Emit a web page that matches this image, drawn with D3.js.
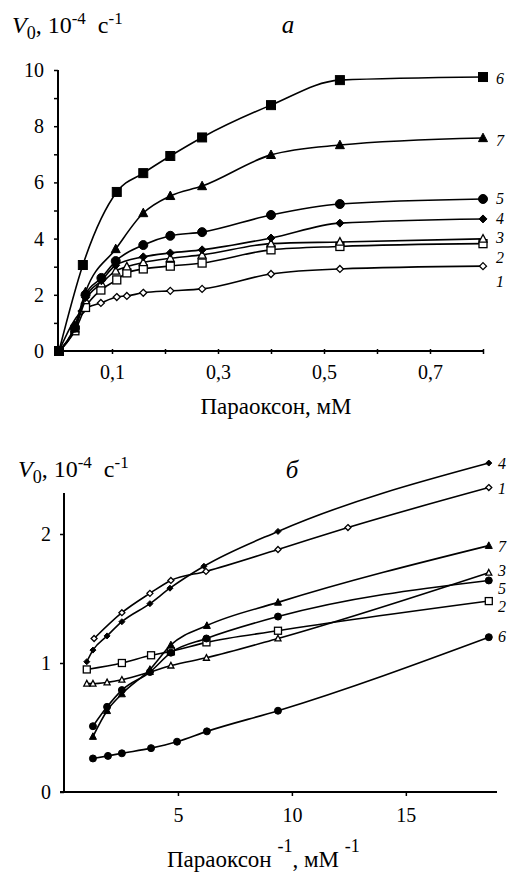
<!DOCTYPE html>
<html><head><meta charset="utf-8">
<script src="https://cdn.jsdelivr.net/npm/d3@7"></script>
<style>body{margin:0;background:#fff}svg{display:block}text{font-family:"Liberation Serif","Times New Roman",serif;fill:#000}</style>
</head><body><svg id="c" width="510" height="873"></svg>
<script>
// ---------- Panel a: V0 vs paraoxon, mM ----------
const aXTicks = [0.1,0.2,0.3,0.4,0.5,0.6,0.7,0.8];
const aXLabels = ["0,1","","0,3","","0,5","","0,7",""];
const aYTicks = [0,1,2,3,4,5,6,7,8,9,10];
const aYLabels = ["0","","2","","4","","6","","8","","10"];
const a1x = [0,0.043,0.079,0.109,0.128,0.159,0.21,0.27,0.40,0.53,0.80];
const a1y = [0,1.42,1.71,1.92,1.96,2.07,2.14,2.21,2.74,2.92,3.02];
const a2x = [0,0.03,0.05,0.079,0.109,0.128,0.159,0.21,0.27,0.40,0.53,0.80];
const a2y = [0,0.72,1.55,2.17,2.53,2.78,2.92,3.02,3.13,3.60,3.72,3.82];
const a3x = [0,0.03,0.05,0.08,0.107,0.128,0.159,0.21,0.27,0.40,0.53,0.80];
const a3y = [0,0.8,1.8,2.4,2.85,3.0,3.15,3.3,3.42,3.82,3.88,3.99];
const a4x = [0,0.03,0.05,0.08,0.107,0.159,0.21,0.27,0.40,0.53,0.80];
const a4y = [0,0.8,1.9,2.5,3.05,3.35,3.49,3.6,4.02,4.55,4.70];
const a5x = [0,0.03,0.05,0.08,0.107,0.159,0.21,0.27,0.40,0.53,0.80];
const a5y = [0,0.85,2.0,2.6,3.2,3.77,4.1,4.23,4.84,5.23,5.41];
const a6x = [0,0.045,0.109,0.159,0.21,0.27,0.40,0.53,0.80];
const a6y = [0,3.06,5.66,6.33,6.94,7.6,8.75,9.64,9.75];
const a7x = [0,0.03,0.05,0.107,0.159,0.21,0.27,0.40,0.53,0.80];
const a7y = [0,0.9,2.1,3.63,4.91,5.52,5.87,6.98,7.33,7.58];

// ---------- Panel б: V0 vs 1/paraoxon ----------
const bXTicks = [5,10,15];
const bYTicks = [0,1,2];
const b1x = [1.32,2.54,3.77,4.69,6.23,9.39,12.46,18.64];
const b1y = [1.19,1.39,1.54,1.64,1.71,1.88,2.05,2.36];
const b2x = [1.0,2.54,3.82,4.69,6.25,9.39,18.64];
const b2y = [0.95,1.0,1.06,1.09,1.16,1.25,1.48];
const b3x = [1.0,1.27,1.89,2.54,3.77,4.69,6.25,9.39,18.64];
const b3y = [0.84,0.84,0.85,0.87,0.93,0.98,1.04,1.19,1.70];
const b4x = [1.0,1.27,1.89,2.54,3.77,4.65,6.14,9.39,18.64];
const b4y = [1.01,1.10,1.21,1.32,1.46,1.58,1.75,2.02,2.55];
const b5x = [1.27,1.89,2.54,3.77,4.69,6.25,9.39,18.64];
const b5y = [0.51,0.66,0.79,0.93,1.08,1.19,1.36,1.64];
const b6x = [1.27,1.93,2.54,3.82,4.96,6.27,9.39,18.64];
const b6y = [0.26,0.28,0.30,0.34,0.39,0.47,0.63,1.20];
const b7x = [1.27,1.89,2.54,3.77,4.69,6.27,9.39,18.64];
const b7y = [0.43,0.63,0.76,0.95,1.14,1.29,1.47,1.91];

const svg = d3.select("#c");

function zip(xs, ys){ return xs.map((x,i)=>({x, y: ys[i]})); }

function marker(g, type, size){
  const s = size;
  if(type==="sq"||type==="osq"){
    return g.append("rect").attr("x",-s/2).attr("y",-s/2).attr("width",s).attr("height",s);
  }
  if(type==="tri"||type==="otri"){
    const h=s*0.9;
    return g.append("path").attr("d",`M0,${-h*0.6}L${s/2},${h*0.45}L${-s/2},${h*0.45}Z`);
  }
  if(type==="dia"||type==="odia"){
    return g.append("path").attr("d",`M0,${-s/2}L${s/2},0L0,${s/2}L${-s/2},0Z`);
  }
  return g.append("circle").attr("r",s/2);
}

function drawSeries(g, x, y, data, type, size, curve){
  const line = d3.line().x(d=>x(d.x)).y(d=>y(d.y)).curve(curve);
  g.append("path").attr("d", line(data)).attr("fill","none").attr("stroke","#000").attr("stroke-width",1.6);
  const open = type.startsWith("o");
  data.forEach(d=>{
    const mg = g.append("g").attr("transform",`translate(${x(d.x)},${y(d.y)})`);
    marker(mg, type, size).attr("fill", open?"#fff":"#000").attr("stroke","#000").attr("stroke-width",open?1.3:1);
  });
}

function yTitle(g, x0, y0){
  const t = g.append("text").attr("x",x0).attr("y",y0).attr("font-size",24).attr("xml:space","preserve");
  t.append("tspan").attr("font-style","italic").text("V");
  t.append("tspan").attr("font-size",18).attr("dy",6).text("0");
  t.append("tspan").attr("dy",-6).text(", 10");
  t.append("tspan").attr("font-size",17).attr("dy",-9).text("-4");
  t.append("tspan").attr("dy",9).text("  с");
  t.append("tspan").attr("font-size",17).attr("dy",-9).text("-1");
}

// ===== Panel a =====
{
  const x = d3.scaleLinear().domain([0,0.8]).range([59,483]);
  const y = d3.scaleLinear().domain([0,10]).range([351,70]);
  const g = svg.append("g");
  const xa = g.append("g").attr("transform","translate(0,351)")
    .call(d3.axisBottom(x).tickValues(aXTicks).tickSize(4).tickPadding(10).tickFormat((d,i)=>aXLabels[i]));
  const ya = g.append("g").attr("transform","translate(58,0)")
    .call(d3.axisLeft(y).tickValues(aYTicks).tickSize(4).tickPadding(10).tickFormat((d,i)=>aYLabels[i]));
  [xa,ya].forEach(a=>{
    a.select(".domain").attr("stroke-width",2).attr("d", a===xa ? "M58,0H484" : "M0,352V70");
    a.selectAll(".tick line").attr("stroke-width",1.5);
    a.selectAll("text").style("font-family","Liberation Serif").style("font-size","20px").attr("fill","#000");
  });
  xa.selectAll(".tick line").attr("y1",-2).attr("y2",3);
  const mc = d3.curveMonotoneX;
  drawSeries(g,x,y,zip(a1x,a1y),"odia",7,mc);
  drawSeries(g,x,y,zip(a2x,a2y),"osq",8,mc);
  drawSeries(g,x,y,zip(a3x,a3y),"otri",8,mc);
  drawSeries(g,x,y,zip(a4x,a4y),"dia",8,mc);
  drawSeries(g,x,y,zip(a5x,a5y),"circ",9,mc);
  drawSeries(g,x,y,zip(a7x,a7y),"tri",9,mc);
  drawSeries(g,x,y,zip(a6x,a6y),"sq",9,mc);
  const labY = {"6":84,"7":146,"5":204,"4":224,"3":243,"2":263,"1":287};
  Object.keys(labY).forEach(t=>{
    g.append("text").attr("x",496).attr("y",labY[t]).attr("font-style","italic").attr("font-size",16).text(t);
  });
  g.append("text").attr("x",288).attr("y",33).attr("font-style","italic").attr("font-size",25).attr("text-anchor","middle").text("а");
  yTitle(g, 12, 33);
  g.append("text").attr("x",276).attr("y",414).attr("text-anchor","middle").attr("font-size",23).text("Параоксон, мМ");
}

// ===== Panel б =====
{
  const x = d3.scaleLinear().domain([0,19]).range([64,497]);
  const y = d3.scaleLinear().domain([0,1]).range([792,663]);
  const g = svg.append("g");
  const xa = g.append("g").attr("transform","translate(0,792)")
    .call(d3.axisBottom(x).tickValues(bXTicks).tickSize(4).tickPadding(12).tickFormat(d3.format("d")));
  const ya = g.append("g").attr("transform","translate(64,0)")
    .call(d3.axisLeft(y).tickValues(bYTicks).tickSize(4).tickPadding(9).tickFormat(d3.format("d")));
  xa.select(".domain").attr("stroke-width",2).attr("d","M60,0H497");
  ya.select(".domain").attr("stroke-width",2).attr("d","M0,792V493");
  [xa,ya].forEach(a=>{
    a.selectAll(".tick line").attr("stroke-width",1.5);
    a.selectAll("text").style("font-family","Liberation Serif").style("font-size","20px").attr("fill","#000");
  });
  const lc = d3.curveMonotoneX;
  drawSeries(g,x,y,zip(b1x,b1y),"odia",6,lc);
  drawSeries(g,x,y,zip(b4x,b4y),"dia",6,lc);
  drawSeries(g,x,y,zip(b2x,b2y),"osq",7,lc);
  drawSeries(g,x,y,zip(b3x,b3y),"otri",6,lc);
  drawSeries(g,x,y,zip(b5x,b5y),"circ",7,lc);
  drawSeries(g,x,y,zip(b7x,b7y),"tri",7,lc);
  drawSeries(g,x,y,zip(b6x,b6y),"circ",7,lc);
  const labY = {"4":469,"1":494,"7":552,"3":576,"5":594,"2":612,"6":642};
  Object.keys(labY).forEach(t=>{
    g.append("text").attr("x",498).attr("y",labY[t]).attr("font-style","italic").attr("font-size",16).text(t);
  });
  g.append("text").attr("x",292).attr("y",478).attr("font-style","italic").attr("font-size",25).attr("text-anchor","middle").text("б");
  yTitle(g, 18, 477);
  const xl = g.append("text").attr("x",167).attr("y",867).attr("font-size",23);
  xl.append("tspan").text("Параоксон ");
  xl.append("tspan").attr("font-size",18).attr("dy",-15).text("-1");
  xl.append("tspan").attr("dy",15).text(", мМ ");
  xl.append("tspan").attr("font-size",18).attr("dy",-15).text("-1");
}
</script></body></html>
